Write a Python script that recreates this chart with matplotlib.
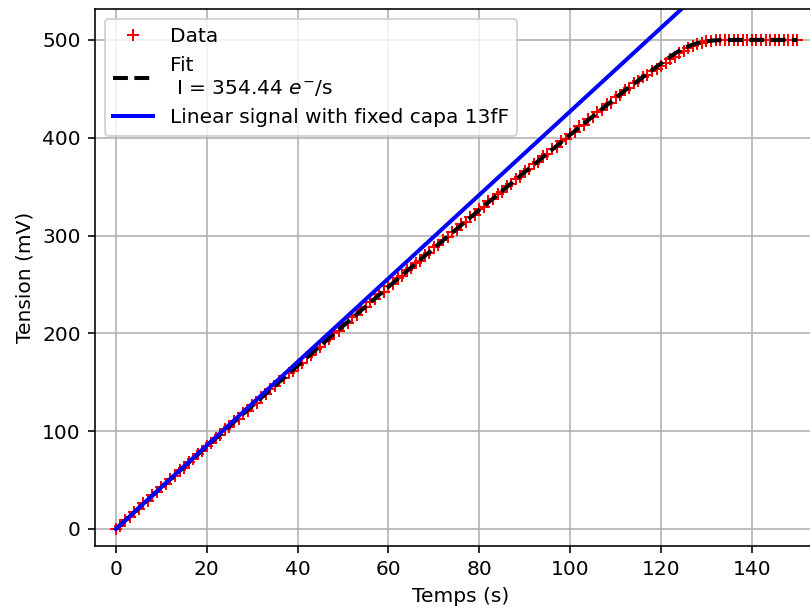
import matplotlib
matplotlib.use("Agg")
import matplotlib.pyplot as plt

# measured points (1 s sampling)
t_data = list(range(0, 151))
v_data = [
    0.0, 3.1, 8.9, 12.2, 17.6, 20.5, 26.3, 29.0, 34.8, 37.6,
    43.1, 45.9, 51.6, 54.3, 60.0, 62.8, 68.5, 71.1, 76.9, 79.4,
    85.1, 87.8, 93.5, 96.1, 101.9, 104.4, 110.2, 112.8, 118.5, 121.0,
    126.8, 129.2, 135.0, 137.5, 143.2, 145.7, 151.4, 153.9, 159.6, 162.0,
    167.8, 170.2, 175.9, 178.3, 184.1, 186.4, 192.2, 194.5, 200.3, 202.6,
    208.3, 210.7, 216.4, 218.7, 224.5, 226.7, 232.4, 234.7, 240.4, 242.7,
    248.4, 250.6, 256.4, 258.6, 264.3, 266.5, 272.2, 274.4, 280.1, 282.3,
    288.0, 290.2, 295.8, 298.0, 303.7, 305.8, 311.5, 313.6, 319.3, 321.4,
    327.1, 329.2, 334.9, 337.0, 342.6, 344.7, 350.3, 352.4, 358.0, 360.1,
    365.7, 367.8, 373.4, 375.4, 381.0, 383.1, 388.7, 390.7, 396.3, 398.3,
    403.9, 405.9, 411.5, 413.4, 419.0, 421.0, 426.5, 428.5, 434.0, 436.0,
    441.5, 443.4, 449.0, 450.8, 456.3, 457.8, 462.5, 463.9, 467.8, 469.9,
    473.6, 476.4, 480.0, 482.9, 486.4, 489.0, 491.8, 493.5, 495.9, 496.8,
    498.6, 498.7, 499.9, 499.5, 500.4, 499.8, 500.3, 499.9, 500.4, 499.7,
    500.3, 500.0, 500.2, 499.8, 500.3, 499.9, 500.1, 499.8, 500.2, 500.0,
    500.1,
]

# fitted curve
t_fit = [0, 10, 20, 30, 40, 50, 60, 70, 80, 90, 100, 105, 110, 113, 115,
         117, 119, 121, 123, 125, 127, 129, 131, 133, 135, 140, 150]
v_fit = [0, 42.46, 84.44, 125.94, 166.96, 207.5, 247.56, 287.14, 326.24,
         364.86, 403, 421.89, 440.66, 451.86, 458.5, 465.5, 472.5, 479.5,
         486, 491.5, 495.3, 497.9, 499.2, 499.8, 500, 500, 500]

# linear signal, fixed capacitance
t_lin = [0, 150]
v_lin = [0, 640.5]

fit_label = "Fit\n I = 354.44 $e^{-}$/s"

dpi = 145
fig = plt.figure(figsize=(810 / dpi, 609 / dpi), dpi=dpi)
ax = fig.add_axes([95 / 810, 63 / 609, 731.2 / 810, 537 / 609])

ax.plot(t_data, v_data, "r+", label="Data")
ax.plot(t_fit, v_fit, "k--", lw=2, label=fit_label)
ax.plot(t_lin, v_lin, "b-", lw=2, label="Linear signal with fixed capa 13fF")

ax.set_xlim(-4.6, 156.35)
ax.set_ylim(-17.4, 531.6)
ax.set_xticks(range(0, 141, 20))
ax.set_xlabel("Temps (s)")
ax.set_ylabel("Tension (mV)")
ax.grid(True)
ax.legend(loc="upper left")

fig.savefig("out.png", dpi=dpi)
